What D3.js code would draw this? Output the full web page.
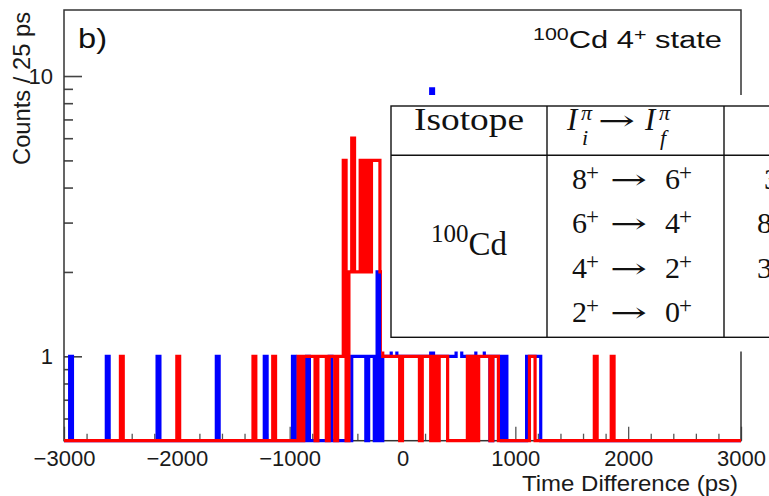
<!DOCTYPE html>
<html>
<head>
<meta charset="utf-8">
<script src="https://cdn.jsdelivr.net/npm/d3@7"></script>
<style>
  body { margin: 0; background: #fff; }
  svg { display: block; }
</style>
</head>
<body>
<div id="chart"></div>
<script>
// 25 ps bins, values are lower bin edges (ps) and counts; empty bins left out
const binWidth = 25
const blueEdges = [-2950, -2625, -2175, -1650, -1225, -975, -850, -650,
  -450, -425, -400, -375, -350, -300, -275, -225,
  -175, -150, -125, -100, -75, -50, -25, 0, 25, 50, 75, 100, 125, 150, 175, 200, 225,
  250,
  275, 300, 325, 350, 375, 400, 425, 450, 475, 500, 525, 550, 575, 600, 625, 650, 675, 700, 725, 750,
  800, 825, 850, 900,
  1100, 1125, 1150, 1175, 1200]
const blueCounts = [1, 1, 1, 1, 1, 1, 1, 1,
  1, 1, 1, 1, 1, 1, 1, 2,
  1, 1, 1, 2, 2, 1, 1, 1, 1, 1, 1, 1, 1, 1, 1, 1, 1,
  9,
  1, 1, 1, 1, 1, 1, 1, 1, 2, 2, 1, 1, 1, 1, 1, 2, 2, 2, 1, 1,
  1, 1, 1, 1,
  1, 1, 1, 1, 1]
const redEdges = [-2500, -2000, -1325, -1150,
  -925, -875, -850, -825, -800, -750, -725, -700, -650, -625, -575, -550,
  -525, -475, -450, -425, -400, -375, -350, -325, -300, -275, -250, -225, -200,
  -175, -150, -125, -100, -75, -50,
  0, 25, 50, 75, 100, 125,
  175, 200, 225, 275, 325, 350, 375,
  575, 625, 675, 700, 725, 750, 800, 825,
  1125, 1150, 1700, 1850]
const redCounts = [1, 1, 1, 1,
  1, 1, 1, 1, 1, 1, 1, 1, 1, 1, 1, 1,
  5, 2, 6, 2, 2, 5, 2, 5, 2, 5, 5, 5, 2,
  1, 1, 1, 1, 1, 1,
  1, 1, 1, 1, 1, 1,
  1, 1, 1, 1, 1, 1, 1,
  1, 1, 1, 1, 1, 1, 1, 1,
  1, 1, 1, 1]
const xMajor = [-3000, -2000, -1000, 0, 1000, 2000, 3000]
const yMajor = [1, 10]
const yMinor = [0.6, 0.7, 0.8, 0.9, 2, 3, 4, 5, 6, 7, 8, 9]

// the pasted table
const transitions = [[8, 6], [6, 4], [4, 2], [2, 0]]
const thirdCol = ['3', '8', '3', '']   // only the first glyphs are in view

const W = 769, H = 496
const frame = {left: 64, right: 741, top: 10, bottom: 440.7}
const xMin = -3000, xMax = 3000, yMin = 0.5, yMax = 17.2
const sans = "'Liberation Sans', Arial, Helvetica, sans-serif"
const serif = "'Liberation Serif', 'Times New Roman', serif"
const lineW = 3.2

const svg = d3.select('#chart').append('svg')
  .attr('width', W)
  .attr('height', H)

const x = d3.scaleLinear().domain([xMin, xMax]).range([frame.left, frame.right])
const y = d3.scaleLog().domain([yMin, yMax]).range([frame.bottom, frame.top])

// ticks (drawn first, histograms go over them)
const xMinor = d3.range(xMin, xMax + 1, 200).filter(v => !xMajor.includes(v))
const gx = svg.append('g').attr('transform', `translate(0, ${frame.bottom})`)
gx.call(d3.axisBottom(x).tickValues(xMinor).tickSize(-7).tickFormat(''))
gx.append('g').call(d3.axisBottom(x).tickValues(xMajor).tickSize(-14).tickPadding(9.5)
  .tickFormat(d3.format('d')))
gx.selectAll('.domain').remove()
gx.selectAll('line').attr('stroke', '#555').attr('stroke-width', 1.3)
gx.selectAll('text')
  .style('font-family', sans)
  .style('font-size', '22px')
  .attr('fill', '#1a1a1a')

const gy = svg.append('g').attr('transform', `translate(${frame.left}, 0)`)
gy.call(d3.axisLeft(y).tickValues(yMinor).tickSize(-9).tickFormat(''))
gy.append('g').call(d3.axisLeft(y).tickValues(yMajor).tickSize(-18).tickPadding(11)
  .tickFormat(d3.format('d')))
gy.selectAll('.domain').remove()
gy.selectAll('line').attr('stroke', '#444').attr('stroke-width', 1.6)
gy.selectAll('text')
  .style('font-family', sans)
  .style('font-size', '22px')
  .attr('fill', '#1a1a1a')

// histograms
const nBins = (xMax - xMin) / binWidth
function fillBins(edges, counts) {
  const c = new Array(nBins).fill(0)
  edges.forEach((e, k) => { c[Math.round((e - xMin) / binWidth)] = counts[k] })
  return c
}
const histLine = d3.line()
  .x(d => x(d[0]))
  .y(d => d[1] > 0 ? y(d[1]) : y(yMin))
  .curve(d3.curveStepAfter)
function histPoints(c) {
  return [[xMin, 0]]
    .concat(c.map((v, i) => [xMin + i * binWidth, v]))
    .concat([[xMax, c[nBins - 1]], [xMax, 0]])
}
const hists = [
  {counts: fillBins(blueEdges, blueCounts), color: '#0000ff'},
  {counts: fillBins(redEdges, redCounts), color: '#ff0000'}
]

// frame
svg.append('rect')
  .attr('x', frame.left)
  .attr('y', frame.top)
  .attr('width', frame.right - frame.left)
  .attr('height', frame.bottom - frame.top)
  .attr('fill', 'none')
  .attr('stroke', '#333')
  .attr('stroke-width', 1.5)

svg.selectAll('.hist')
  .data(hists)
  .enter().append('path')
  .attr('class', 'hist')
  .attr('d', d => histLine(histPoints(d.counts)))
  .attr('fill', 'none')
  .attr('stroke', d => d.color)
  .attr('stroke-width', lineW)

// labels
svg.append('text')
  .attr('x', 738)
  .attr('y', 490.5)
  .attr('text-anchor', 'end')
  .attr('textLength', 216)
  .attr('lengthAdjust', 'spacingAndGlyphs')
  .style('font-family', sans)
  .style('font-size', '22px')
  .attr('fill', '#1a1a1a')
  .text('Time Difference (ps)')

svg.append('text')
  .attr('transform', 'translate(29.5, 12) rotate(-90)')
  .attr('text-anchor', 'end')
  .attr('textLength', 153)
  .attr('lengthAdjust', 'spacingAndGlyphs')
  .style('font-family', sans)
  .style('font-size', '24px')
  .attr('fill', '#1a1a1a')
  .text('Counts / 25 ps')

svg.append('text')
  .attr('x', 78)
  .attr('y', 48)
  .attr('textLength', 29)
  .attr('lengthAdjust', 'spacingAndGlyphs')
  .style('font-family', sans)
  .style('font-size', '28px')
  .attr('fill', '#111')
  .text('b)')

const state = svg.append('text')
  .attr('x', 722)
  .attr('y', 47.5)
  .attr('text-anchor', 'end')
  .attr('textLength', 189)
  .attr('lengthAdjust', 'spacingAndGlyphs')
  .style('font-family', sans)
  .style('font-size', '23px')
  .attr('fill', '#111')
state.append('tspan').style('font-size', '16px').attr('dy', -8).text('100')
state.append('tspan').attr('dy', 8).text('Cd 4')
state.append('tspan').style('font-size', '16px').attr('dy', -8).text('+')
state.append('tspan').attr('dy', 8).text(' state')

// table pasted over the plot
const tb = {x0: 391, x1: 820, y0: 106, yHead: 155.3, y1: 337.3, cols: [547, 724]}
svg.append('rect')
  .attr('x', 382).attr('y', 95)
  .attr('width', W - 382).attr('height', 256.5)
  .attr('fill', '#fff')
const tg = svg.append('g')
tg.append('rect')
  .attr('x', tb.x0).attr('y', tb.y0)
  .attr('width', tb.x1 - tb.x0).attr('height', tb.y1 - tb.y0)
  .attr('fill', 'none').attr('stroke', '#111').attr('stroke-width', 1.4)
tg.append('line')
  .attr('x1', tb.x0).attr('x2', tb.x1)
  .attr('y1', tb.yHead).attr('y2', tb.yHead)
  .attr('stroke', '#111').attr('stroke-width', 1.4)
tg.selectAll('.col')
  .data(tb.cols)
  .enter().append('line')
  .attr('x1', d => d).attr('x2', d => d)
  .attr('y1', tb.y0).attr('y2', tb.y1)
  .attr('stroke', '#111').attr('stroke-width', 1.4)

const colCenter1 = (tb.x0 + tb.cols[0]) / 2
const c2 = tb.cols[0]
function serifText(xp, yp, str, size, italic) {
  return tg.append('text')
    .attr('x', xp).attr('y', yp)
    .style('font-family', serif)
    .style('font-size', size + 'px')
    .style('font-style', italic ? 'italic' : 'normal')
    .attr('fill', '#111')
    .text(str)
}
// arrow glyph stretched to the width it has in the table
function arrow(xp, yp) {
  const t = tg.append('text')
    .attr('transform', `translate(${xp}, ${yp})`)
    .style('font-family', "'DejaVu Serif', serif")
    .style('font-size', '27px')
    .attr('fill', '#111')
    .text('→')
  const w = t.node().getComputedTextLength() || 22
  t.attr('transform', `translate(${xp}, ${yp}) scale(${37 / w}, 1)`)
}

serifText(colCenter1, 129.5, 'Isotope', 31)
  .attr('text-anchor', 'middle')
  .attr('textLength', 110)
  .attr('lengthAdjust', 'spacingAndGlyphs')

// I_i^pi -> I_f^pi
const head = [{dx: 20, sub: 'i'}, {dx: 98, sub: 'f'}]
head.forEach(h => {
  serifText(c2 + h.dx, 130, 'I', 31, true)
  serifText(c2 + h.dx + 14, 120, 'π', 22, true)
  serifText(c2 + h.dx + 15, 145, h.sub, 22, true)
})
arrow(c2 + 51, 130)

const iso = tg.append('text')
  .attr('x', colCenter1).attr('y', 255)
  .attr('text-anchor', 'middle')
  .style('font-family', serif).style('font-size', '33px')
  .attr('fill', '#111')
iso.append('tspan').style('font-size', '25px').attr('dy', -13).text('100')
iso.append('tspan').attr('dy', 13).text('Cd')

const rowBase = [188.5, 233, 277.5, 321.5]
transitions.forEach((t, i) => {
  const yb = rowBase[i]
  serifText(c2 + 25, yb, t[0], 30)
  serifText(c2 + 39, yb - 9, '+', 23)
  arrow(c2 + 63, yb)
  serifText(c2 + 118, yb, t[1], 30)
  serifText(c2 + 132, yb - 9, '+', 23)
  serifText(i === 0 ? 764 : 757, yb, thirdCol[i], 30)
})
</script>
</body>
</html>
